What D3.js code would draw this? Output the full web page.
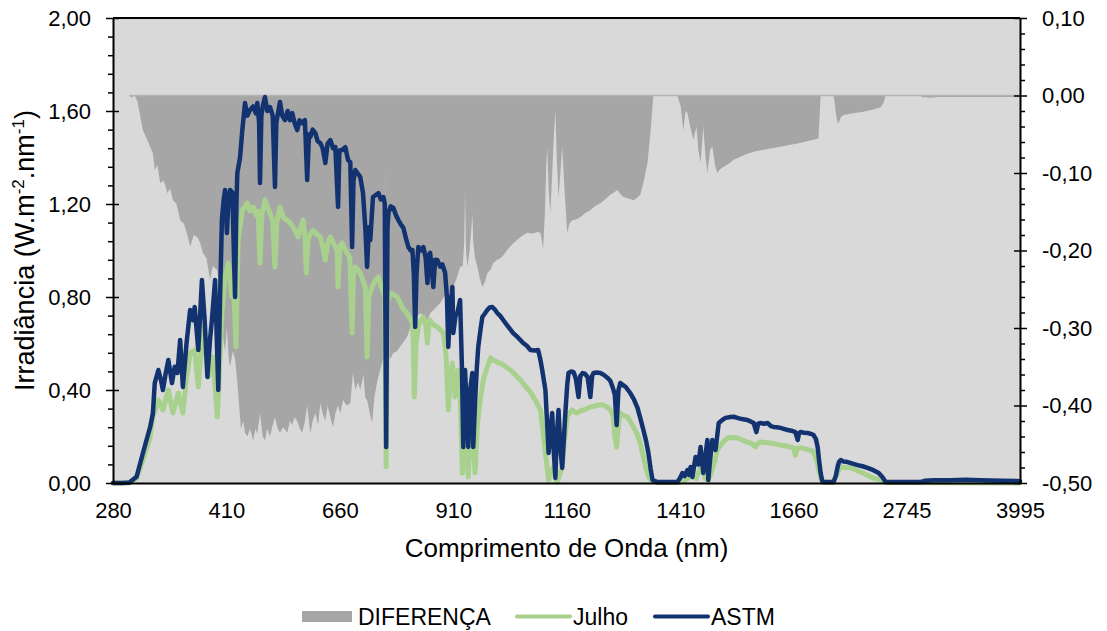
<!DOCTYPE html>
<html>
<head>
<meta charset="utf-8">
<script src="https://cdnjs.cloudflare.com/ajax/libs/d3/7.8.5/d3.min.js"></script>
<style>
  body { margin: 0; background: #ffffff; }
  text { font-family: "Liberation Sans", Arial, sans-serif; fill: #000; }
</style>
</head>
<body>
<script>
// Tick labels of the category axis (wavelength, nm)
var xTickWl = [280, 410, 660, 910, 1160, 1410, 1660, 2745, 3995];
var xTickLabels = ["280", "410", "660", "910", "1160", "1410", "1660", "2745", "3995"];
var yLeftTicks = [0, 0.4, 0.8, 1.2, 1.6, 2.0];
var yRightTicks = [-0.5, -0.4, -0.3, -0.2, -0.1, 0, 0.1];

// ASTM G173 reference spectrum
var astmWl = [280, 290, 298, 306, 313, 318, 321, 324, 326, 330, 333, 335, 338, 341, 345, 348, 351, 354, 357, 361,
  365, 368, 370, 374, 378, 381, 384, 387, 389, 392.5, 396, 398, 400, 404, 407, 411, 414, 418, 423, 429,
  432, 434, 440, 445, 451, 456, 462, 469, 475, 478, 482, 484, 487, 490, 495, 500, 506, 512, 517, 520,
  528, 533, 539, 545, 550, 555, 560, 566, 571, 577, 583, 588, 592, 595, 600, 606, 611, 617, 622, 628,
  633, 639, 645, 650, 656, 659, 665, 672, 678, 683, 687, 690, 694, 700, 705, 711, 716, 720, 724, 727,
  733, 740, 745, 750, 756, 759, 762, 765, 767, 772, 778, 784, 789, 795, 800, 806, 811, 816, 820, 823,
  826, 829, 833, 838, 844, 849, 853, 856, 859, 866, 870, 875, 881, 886, 892, 896, 899, 903, 908, 910,
  915, 919, 925, 929, 932, 936, 940, 943, 947, 952, 954, 958, 962, 965, 970, 974, 980, 985, 990, 996,
  1002, 1007, 1013, 1020, 1030, 1042, 1053, 1064, 1072, 1080, 1090, 1097, 1102, 1106, 1113, 1117, 1120, 1124, 1128, 1131,
  1135, 1138, 1142, 1146, 1150, 1154, 1157, 1161, 1164, 1170, 1175, 1180, 1186, 1190, 1195, 1200, 1206, 1212, 1216, 1219,
  1226, 1234, 1242, 1250, 1256, 1261, 1266, 1270, 1274, 1278, 1285, 1290, 1300, 1308, 1316, 1322, 1329, 1335, 1340, 1345,
  1349, 1360, 1404, 1411, 1415, 1420, 1426, 1430, 1433, 1437, 1444, 1450, 1455, 1458, 1461, 1466, 1470, 1472, 1476, 1481,
  1488, 1495, 1503, 1510, 1521, 1528, 1536, 1546, 1558, 1565, 1572, 1578, 1582, 1587, 1595, 1603, 1610, 1616, 1623, 1631,
  1640, 1647, 1655, 1664, 1669, 1672, 1675, 1683, 1691, 1700, 1720, 1745, 1765, 1780, 1798, 1815, 1830, 1940, 1965, 1985,
  2000, 2020, 2050, 2095, 2150, 2205, 2260, 2315, 2380, 2438, 2480, 2515, 2900, 2950, 3050, 3230, 3400, 3563, 3800, 3995];
var astmVal = [0, 0, 0.002, 0.027, 0.129, 0.20, 0.241, 0.30, 0.430, 0.486, 0.44, 0.400, 0.47, 0.529, 0.430, 0.50, 0.473, 0.615, 0.413, 0.60,
  0.744, 0.70, 0.757, 0.572, 0.873, 0.70, 0.456, 0.62, 0.701, 0.873, 0.400, 0.80, 1.131, 1.22, 1.260, 1.075, 1.20, 1.260, 1.25, 0.800,
  1.20, 1.333, 1.40, 1.518, 1.634, 1.58, 1.604, 1.62, 1.59, 1.634, 1.55, 1.290, 1.58, 1.62, 1.660, 1.60, 1.617, 1.58, 1.273, 1.55,
  1.639, 1.58, 1.561, 1.60, 1.56, 1.591, 1.55, 1.518, 1.56, 1.548, 1.561, 1.303, 1.50, 1.488, 1.52, 1.505, 1.47, 1.462, 1.44, 1.376,
  1.46, 1.475, 1.44, 1.445, 1.187, 1.43, 1.432, 1.445, 1.389, 1.38, 1.015, 1.30, 1.346, 1.33, 1.316, 1.247, 1.10, 0.929, 1.10, 1.045,
  1.230, 1.24, 1.247, 1.22, 1.230, 1.20, 0.155, 1.10, 1.161, 1.19, 1.183, 1.15, 1.131, 1.11, 1.097, 1.05, 1.015, 1.00, 1.002, 0.90,
  0.671, 0.90, 1.015, 1.00, 1.015, 0.97, 0.860, 0.98, 0.99, 0.843, 0.96, 0.959, 0.93, 0.94, 0.903, 0.80, 0.585, 0.75, 0.843, 0.645,
  0.72, 0.731, 0.787, 0.50, 0.155, 0.486, 0.30, 0.155, 0.40, 0.473, 0.155, 0.35, 0.50, 0.585, 0.66, 0.714, 0.73, 0.744, 0.755, 0.757,
  0.745, 0.731, 0.72, 0.701, 0.675, 0.645, 0.625, 0.602, 0.59, 0.572, 0.57, 0.572, 0.53, 0.486, 0.400, 0.25, 0.129, 0.22, 0.301, 0.15,
  0.022, 0.20, 0.314, 0.15, 0.065, 0.20, 0.301, 0.42, 0.473, 0.48, 0.477, 0.45, 0.370, 0.46, 0.473, 0.47, 0.456, 0.370, 0.46, 0.473,
  0.475, 0.473, 0.465, 0.452, 0.44, 0.413, 0.38, 0.249, 0.40, 0.430, 0.42, 0.413, 0.387, 0.36, 0.323, 0.28, 0.228, 0.18, 0.129, 0.06,
  0.013, 0.004, 0.004, 0.026, 0.043, 0.03, 0.056, 0.035, 0.069, 0.026, 0.112, 0.08, 0.155, 0.10, 0.043, 0.12, 0.185, 0.013, 0.10, 0.185,
  0.142, 0.258, 0.271, 0.28, 0.284, 0.285, 0.280, 0.275, 0.271, 0.265, 0.258, 0.219, 0.255, 0.258, 0.255, 0.258, 0.245, 0.241, 0.24, 0.237,
  0.232, 0.228, 0.225, 0.219, 0.185, 0.215, 0.219, 0.216, 0.215, 0.21, 0.206, 0.19, 0.155, 0.10, 0.043, 0.01, 0.004, 0.004, 0.03, 0.069,
  0.09, 0.099, 0.092, 0.090, 0.083, 0.077, 0.072, 0.065, 0.055, 0.043, 0.025, 0.004, 0.004, 0.01, 0.012, 0.012, 0.014, 0.012, 0.010, 0.008];

// Julho measured spectrum
var julhoWl = [280, 298, 306, 313, 321, 324, 330, 335, 341, 346, 352, 357, 361, 365, 370, 374, 379, 385, 390, 395,
  398, 400, 407, 414, 418, 422, 426, 431, 434, 436, 445, 451, 456, 462, 469, 476, 480, 484, 488, 495,
  506, 512, 517, 521, 528, 536, 544, 550, 557, 563, 568, 572, 579, 583, 586, 590, 595, 601, 609, 617,
  622, 628, 633, 639, 646, 654, 656, 660, 665, 670, 676, 682, 687, 690, 694, 700, 705, 711, 716, 720,
  724, 731, 738, 745, 750, 756, 759, 762, 765, 771, 778, 786, 792, 797, 803, 808, 814, 820, 822, 824,
  828, 833, 838, 844, 849, 853, 856, 859, 866, 875, 881, 888, 894, 899, 903, 908, 911, 914, 918, 921,
  925, 930, 933, 936, 940, 943, 947, 952, 955, 958, 963, 970, 977, 985, 992, 996, 1003, 1009, 1014, 1025,
  1036, 1047, 1058, 1069, 1080, 1091, 1102, 1108, 1113, 1120, 1125, 1131, 1135, 1139, 1145, 1150, 1155, 1161, 1166, 1172,
  1178, 1183, 1190, 1197, 1205, 1212, 1220, 1228, 1241, 1250, 1256, 1262, 1266, 1270, 1274, 1278, 1285, 1294, 1300, 1307,
  1315, 1322, 1328, 1334, 1340, 1345, 1360, 1404, 1420, 1433, 1445, 1459, 1465, 1472, 1481, 1487, 1492, 1503, 1514, 1525,
  1536, 1547, 1558, 1567, 1576, 1581, 1587, 1598, 1609, 1620, 1631, 1642, 1653, 1660, 1664, 1668, 1675, 1685, 1693, 1700,
  1720, 1742, 1770, 1798, 1820, 1940, 1970, 1995, 2020, 2075, 2130, 2185, 2240, 2295, 2350, 2405, 2460, 2515, 3995];
var julhoVal = [0, 0, 0.02, 0.10, 0.198, 0.284, 0.357, 0.314, 0.400, 0.301, 0.387, 0.301, 0.45, 0.559, 0.572, 0.413, 0.671, 0.456, 0.542, 0.284,
  0.55, 0.731, 0.886, 0.946, 0.88, 0.800, 0.85, 0.585, 0.90, 1.045, 1.174, 1.19, 1.204, 1.17, 1.187, 1.15, 1.17, 0.946, 1.15, 1.217,
  1.161, 1.13, 0.929, 1.12, 1.187, 1.14, 1.131, 1.12, 1.101, 1.08, 1.058, 1.088, 1.131, 1.06, 0.903, 1.05, 1.07, 1.088, 1.07, 1.058,
  1.02, 0.959, 1.03, 1.058, 1.03, 1.002, 0.843, 1.02, 1.032, 1.01, 0.989, 0.97, 0.645, 0.90, 0.929, 0.915, 0.903, 0.87, 0.843, 0.542,
  0.80, 0.843, 0.87, 0.886, 0.85, 0.817, 0.80, 0.069, 0.78, 0.817, 0.81, 0.800, 0.78, 0.757, 0.74, 0.731, 0.71, 0.688, 0.60, 0.370,
  0.60, 0.671, 0.70, 0.714, 0.68, 0.602, 0.68, 0.701, 0.68, 0.671, 0.66, 0.645, 0.55, 0.314, 0.45, 0.516, 0.45, 0.370, 0.45, 0.486,
  0.40, 0.043, 0.15, 0.215, 0.10, 0.026, 0.20, 0.301, 0.15, 0.043, 0.25, 0.370, 0.45, 0.499, 0.538, 0.529, 0.525, 0.516, 0.516, 0.50,
  0.486, 0.465, 0.443, 0.415, 0.391, 0.355, 0.314, 0.22, 0.129, 0.013, 0.05, 0.069, 0.02, 0.004, 0.04, 0.069, 0.18, 0.284, 0.30, 0.314,
  0.305, 0.301, 0.31, 0.314, 0.32, 0.327, 0.33, 0.335, 0.335, 0.325, 0.314, 0.29, 0.20, 0.155, 0.25, 0.301, 0.29, 0.284, 0.265, 0.241,
  0.21, 0.172, 0.12, 0.069, 0.03, 0.013, 0.002, 0.002, 0.01, 0.03, 0.02, 0.08, 0.02, 0.01, 0.06, 0.10, 0.142, 0.172, 0.194, 0.196,
  0.194, 0.185, 0.176, 0.17, 0.155, 0.17, 0.176, 0.174, 0.172, 0.168, 0.163, 0.16, 0.155, 0.15, 0.120, 0.15, 0.151, 0.147, 0.142, 0.14,
  0.13, 0.112, 0.07, 0.022, 0.004, 0.002, 0.03, 0.055, 0.069, 0.067, 0.065, 0.056, 0.047, 0.037, 0.026, 0.018, 0.013, 0.002, 0];

// DIFERENÇA (right axis)
var difWl = [280, 298, 300, 304, 307, 313, 317, 321, 324, 326, 329, 332, 336, 340, 343, 346, 350, 354, 358, 362,
  365, 369, 373, 376, 379, 383, 387, 390, 395, 398, 400, 402, 407, 411, 415, 418, 424, 429, 434, 438,
  442, 447, 451, 456, 462, 469, 474, 478, 484, 490, 495, 500, 506, 512, 517, 523, 528, 535, 544, 550,
  555, 560, 566, 572, 577, 583, 588, 595, 600, 606, 612, 617, 622, 628, 633, 639, 645, 650, 656, 661,
  667, 675, 683, 689, 694, 700, 705, 712, 716, 720, 726, 731, 736, 742, 749, 755, 759, 760, 761, 764,
  771, 778, 786, 793, 800, 808, 815, 822, 830, 837, 845, 853, 860, 866, 874, 881, 889, 897, 904, 910,
  918, 925, 931, 934, 936, 938, 941, 946, 950, 952, 954, 958, 963, 968, 974, 980, 985, 992, 998, 1007,
  1014, 1022, 1029, 1040, 1051, 1062, 1073, 1085, 1095, 1102, 1106, 1108, 1112, 1115, 1117, 1120, 1124, 1128, 1131, 1135,
  1138, 1142, 1146, 1150, 1155, 1161, 1166, 1172, 1180, 1190, 1200, 1212, 1222, 1234, 1245, 1256, 1264, 1272, 1278, 1285,
  1296, 1307, 1315, 1322, 1330, 1338, 1345, 1351, 1404, 1411, 1417, 1422, 1426, 1432, 1439, 1446, 1450, 1455, 1461, 1466,
  1470, 1476, 1481, 1487, 1492, 1498, 1506, 1517, 1528, 1543, 1558, 1576, 1594, 1612, 1631, 1650, 1669, 1690, 1720, 1750,
  1775, 1785, 1798, 1940, 1955, 1965, 1985, 1998, 2020, 2053, 2150, 2270, 2380, 2460, 2490, 2515, 2900, 2925, 2950, 3000,
  3100, 3995];
var difVal = [0, 0, -0.003, 0, -0.008, -0.045, -0.055, -0.066, -0.075, -0.096, -0.09, -0.113, -0.11, -0.126, -0.12, -0.135, -0.14, -0.161, -0.165, -0.18,
  -0.195, -0.18, -0.183, -0.19, -0.203, -0.21, -0.238, -0.22, -0.225, -0.260, -0.27, -0.31, -0.33, -0.30, -0.34, -0.35, -0.33, -0.34, -0.37, -0.40,
  -0.43, -0.42, -0.435, -0.44, -0.43, -0.445, -0.43, -0.436, -0.41, -0.44, -0.445, -0.43, -0.44, -0.425, -0.415, -0.43, -0.435, -0.428, -0.435, -0.42,
  -0.425, -0.415, -0.42, -0.43, -0.435, -0.42, -0.40, -0.436, -0.42, -0.41, -0.425, -0.397, -0.41, -0.42, -0.40, -0.415, -0.428, -0.41, -0.40, -0.41,
  -0.393, -0.40, -0.397, -0.358, -0.38, -0.37, -0.38, -0.36, -0.39, -0.393, -0.41, -0.423, -0.39, -0.37, -0.354, -0.34, -0.33, -0.087, -0.33, -0.332,
  -0.34, -0.332, -0.33, -0.324, -0.318, -0.312, -0.30, -0.290, -0.285, -0.281, -0.285, -0.29, -0.28, -0.277, -0.272, -0.268, -0.26, -0.255, -0.25, -0.247,
  -0.235, -0.221, -0.22, -0.19, -0.122, -0.20, -0.221, -0.20, -0.17, -0.152, -0.19, -0.21, -0.221, -0.235, -0.247, -0.24, -0.229, -0.225, -0.216, -0.212,
  -0.21, -0.205, -0.199, -0.192, -0.186, -0.181, -0.177, -0.178, -0.176, -0.177, -0.19, -0.199, -0.15, -0.09, -0.066, -0.12, -0.152, -0.10, -0.06, -0.019,
  -0.08, -0.132, -0.10, -0.066, -0.12, -0.177, -0.165, -0.161, -0.16, -0.157, -0.152, -0.148, -0.143, -0.139, -0.134, -0.128, -0.125, -0.122, -0.127, -0.131,
  -0.133, -0.135, -0.132, -0.128, -0.11, -0.087, -0.045, 0, 0, -0.014, -0.045, -0.02, -0.023, -0.04, -0.057, -0.04, -0.07, -0.087, -0.040, -0.08,
  -0.100, -0.07, -0.066, -0.09, -0.100, -0.095, -0.092, -0.088, -0.083, -0.079, -0.075, -0.072, -0.070, -0.068, -0.066, -0.064, -0.062, -0.059, -0.057, -0.056,
  -0.055, -0.03, 0, 0, -0.01, -0.023, -0.035, -0.035, -0.028, -0.025, -0.023, -0.021, -0.018, -0.015, -0.01, 0, 0, -0.003, -0.002, -0.003,
  -0.002, -0.002];

// Chart geometry
var svgWidth = 1107;
var svgHeight = 631;
var margin = { top: 18, bottom: 148, left: 113, right: 87 };
var chartWidth = svgWidth - margin.left - margin.right;
var chartHeight = svgHeight - margin.top - margin.bottom;

var svg = d3.select("body")
  .append("svg")
  .attr("width", svgWidth)
  .attr("height", svgHeight);

var chartGroup = svg.append("g")
  .attr("transform", `translate(${margin.left}, ${margin.top})`);

// Category index of a wavelength (0.5 nm to 400, 1 nm to 1700, 5 nm after)
var idxScale = d3.scaleLinear().domain([280, 400, 1700, 4000]).range([0, 240, 1540, 2000]);
var xScale = d3.scaleLinear().domain([0, 1999]).range([0, chartWidth]);
var x = wl => xScale(idxScale(wl));

var yLeft = d3.scaleLinear().domain([0, 2]).range([chartHeight, 0]);
var yRight = d3.scaleLinear().domain([-0.5, 0.1]).range([chartHeight, 0]);

var locale = d3.formatLocale({ decimal: ",", thousands: ".", grouping: [3], currency: ["", ""], minus: "-" });
var fmt = locale.format(".2f");

// Plot area
chartGroup.append("rect")
  .attr("width", chartWidth)
  .attr("height", chartHeight)
  .attr("fill", "#d9d9d9");

// DIFERENÇA area
var difData = difWl.map((w, i) => ({ w: w, v: difVal[i] }));
chartGroup.append("path")
  .datum(difData)
  .attr("fill", "#a6a6a6")
  .attr("d", d3.area()
    .x(d => x(d.w))
    .y0(yRight(0))
    .y1(d => yRight(d.v)));

chartGroup.append("path")
  .datum([difWl[1], difWl[difWl.length - 1]])
  .attr("fill", "none")
  .attr("stroke", "#b3b3b3")
  .attr("stroke-width", 1.5)
  .attr("d", d3.line().x(d => x(d)).y(yRight(0)));

// Lines
function drawLine(wls, vals, color, width) {
  chartGroup.append("path")
    .datum(wls.map((w, i) => ({ w: w, v: vals[i] })))
    .attr("fill", "none")
    .attr("stroke", color)
    .attr("stroke-width", width)
    .attr("stroke-linejoin", "round")
    .attr("stroke-linecap", "round")
    .attr("d", d3.line().x(d => x(d.w)).y(d => yLeft(d.v)));
}
drawLine(julhoWl, julhoVal, "#a9d18e", 5);
drawLine(astmWl, astmVal, "#133370", 4.5);

// Axes
function styleAxis(g, size) {
  g.selectAll("text").attr("font-size", size).attr("font-family", "'Liberation Sans', Arial, sans-serif");
  g.selectAll("line").attr("stroke", "#000").attr("stroke-width", 1.5);
  g.select(".domain").attr("stroke", "#000").attr("stroke-width", 2);
}

function minorValues(scale, step, majors) {
  var d = scale.domain(), out = [];
  for (var k = 0; d[0] + k * step <= d[1] + 1e-9; k++) {
    var v = +(d[0] + k * step).toFixed(4);
    if (!majors.some(m => Math.abs(m - v) < 1e-6)) out.push(v);
  }
  return out;
}

// left minor ticks
chartGroup.append("g")
  .call(d3.axisLeft(yLeft).tickValues(minorValues(yLeft, 0.08, yLeftTicks)).tickSize(5).tickFormat(""))
  .call(g => { g.select(".domain").remove(); g.selectAll("line").attr("stroke-width", 1.5); });

var leftG = chartGroup.append("g")
  .call(d3.axisLeft(yLeft).tickValues(yLeftTicks).tickFormat(fmt).tickSizeInner(7).tickSizeOuter(0).tickPadding(15));
leftG.selectAll(".tick line").attr("x1", 6);
styleAxis(leftG, 22);

// right minor ticks
chartGroup.append("g")
  .attr("transform", `translate(${chartWidth}, 0)`)
  .call(d3.axisRight(yRight).tickValues(minorValues(yRight, 0.02, yRightTicks)).tickSize(5).tickFormat(""))
  .call(g => { g.select(".domain").remove(); g.selectAll("line").attr("stroke-width", 1.5); });

var rightG = chartGroup.append("g")
  .attr("transform", `translate(${chartWidth}, 0)`)
  .call(d3.axisRight(yRight).tickValues(yRightTicks).tickFormat(fmt).tickSizeInner(7).tickSizeOuter(0).tickPadding(15));
rightG.selectAll(".tick line").attr("x1", -6);
styleAxis(rightG, 22);

var bottomG = chartGroup.append("g")
  .attr("transform", `translate(0, ${chartHeight})`)
  .call(d3.axisBottom(xScale)
    .tickValues(xTickWl.map(idxScale))
    .tickFormat((d, i) => xTickLabels[i])
    .tickSize(0)
    .tickPadding(19));
styleAxis(bottomG, 22);

// top border
chartGroup.append("line")
  .attr("x1", 0).attr("x2", chartWidth)
  .attr("y1", 0).attr("y2", 0)
  .attr("stroke", "#000").attr("stroke-width", 2);

// Axis titles
chartGroup.append("text")
  .attr("x", chartWidth / 2)
  .attr("y", chartHeight + 74)
  .attr("text-anchor", "middle")
  .attr("font-size", 26)
  .text("Comprimento de Onda (nm)");

var yTitle = svg.append("text")
  .attr("transform", `translate(34, ${margin.top + chartHeight / 2}) rotate(-90)`)
  .attr("text-anchor", "middle")
  .attr("font-size", 27);
yTitle.append("tspan").text("Irradiância (W.m");
yTitle.append("tspan").attr("dy", -10).attr("font-size", 17).text("-2");
yTitle.append("tspan").attr("dy", 10).text(".nm");
yTitle.append("tspan").attr("dy", -10).attr("font-size", 17).text("-1");
yTitle.append("tspan").attr("dy", 10).text(")");

// Legend
var legendNames = ["DIFERENÇA", "Julho", "ASTM"];
var legendColors = ["#a6a6a6", "#a9d18e", "#133370"];
var legendX = [302, 517, 655];
var legend = svg.append("g");
legendNames.forEach((name, i) => {
  if (i === 0) {
    legend.append("rect")
      .attr("x", legendX[i]).attr("y", 611)
      .attr("width", 50).attr("height", 11)
      .attr("fill", legendColors[i]);
  } else {
    legend.append("line")
      .attr("x1", legendX[i]).attr("x2", legendX[i] + 53)
      .attr("y1", 616.5).attr("y2", 616.5)
      .attr("stroke", legendColors[i])
      .attr("stroke-width", 4)
      .attr("stroke-linecap", "round");
  }
  legend.append("text")
    .attr("x", legendX[i] + 56)
    .attr("y", 625)
    .attr("font-size", 23)
    .text(name);
});
</script>
</body>
</html>
